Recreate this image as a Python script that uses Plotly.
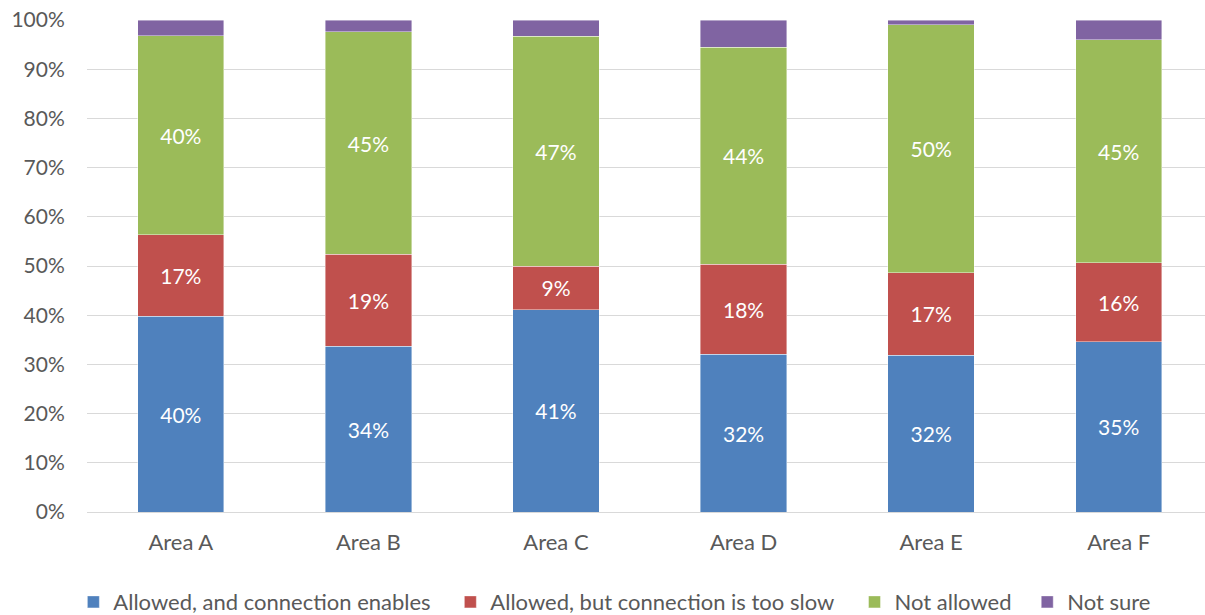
import plotly.graph_objects as go

# Share of responses per area (percent of total)
areas = ["Area A", "Area B", "Area C", "Area D", "Area E", "Area F"]
allowed_enables = [39.8, 33.7, 41.1, 32.1, 31.9, 34.6]
allowed_too_slow = [16.6, 18.7, 8.9, 18.3, 16.7, 16.1]
not_allowed = [40.4, 45.2, 46.7, 44.1, 50.4, 45.3]
not_sure = [3.2, 2.4, 3.3, 5.5, 1.0, 4.0]

series = [
    ("Allowed, and connection enables", allowed_enables, "#4F81BD", True, "legend"),
    ("Allowed, but connection is too slow", allowed_too_slow, "#C0504D", True, "legend2"),
    ("Not allowed", not_allowed, "#9BBB59", True, "legend3"),
    ("Not sure", not_sure, "#8064A2", False, "legend4"),
]

FONT = "Lato"
GREY = "#595959"

fig = go.Figure()
for name, vals, color, labelled, leg in series:
    fig.add_trace(go.Bar(
        x=areas, y=vals, name=name,
        marker=dict(color=color, line=dict(color="rgba(255,255,255,0.6)", width=0.7)),
        width=0.46,
        texttemplate="%{y:.0f}%" if labelled else None,
        textposition="inside" if labelled else "none",
        insidetextanchor="middle",
        textangle=0,
        textfont=dict(family=FONT, size=21, color="white"),
        legend=leg,
        hoverinfo="skip",
    ))

leg_common = dict(orientation="h", yanchor="middle", xanchor="left",
                  yref="container",
                  font=dict(family=FONT, size=22, color=GREY),
                  bgcolor="rgba(0,0,0,0)", borderwidth=0)
legy = 0.021
fig.update_layout(
    barmode="stack",
    width=1205, height=615,
    margin=dict(l=87, r=0, t=20, b=103, autoexpand=False),
    plot_bgcolor="white", paper_bgcolor="white",
    font=dict(family=FONT, size=22, color=GREY),
    xaxis=dict(range=[-0.5, 5.46], showgrid=False, showline=False,
               ticks="outside", ticklen=11, tickcolor="rgba(0,0,0,0)",
               tickfont=dict(family=FONT, size=22, color=GREY)),
    yaxis=dict(range=[0, 100], dtick=10, ticksuffix="%", showgrid=True,
               gridcolor="#D9D9D9", gridwidth=1, zeroline=True,
               zerolinecolor="#D9D9D9", zerolinewidth=1, showline=False,
               ticks="outside", ticklen=17, tickcolor="rgba(0,0,0,0)",
               tickfont=dict(family=FONT, size=21, color=GREY)),
    legend=dict(x=-0.0122, y=legy, **leg_common),
    legend2=dict(x=0.325, y=legy, **leg_common),
    legend3=dict(x=0.6865, y=legy, **leg_common),
    legend4=dict(x=0.841, y=legy, **leg_common),
    showlegend=True,
    uniformtext=dict(minsize=10, mode="show"),
)

fig.write_html("out.html")
